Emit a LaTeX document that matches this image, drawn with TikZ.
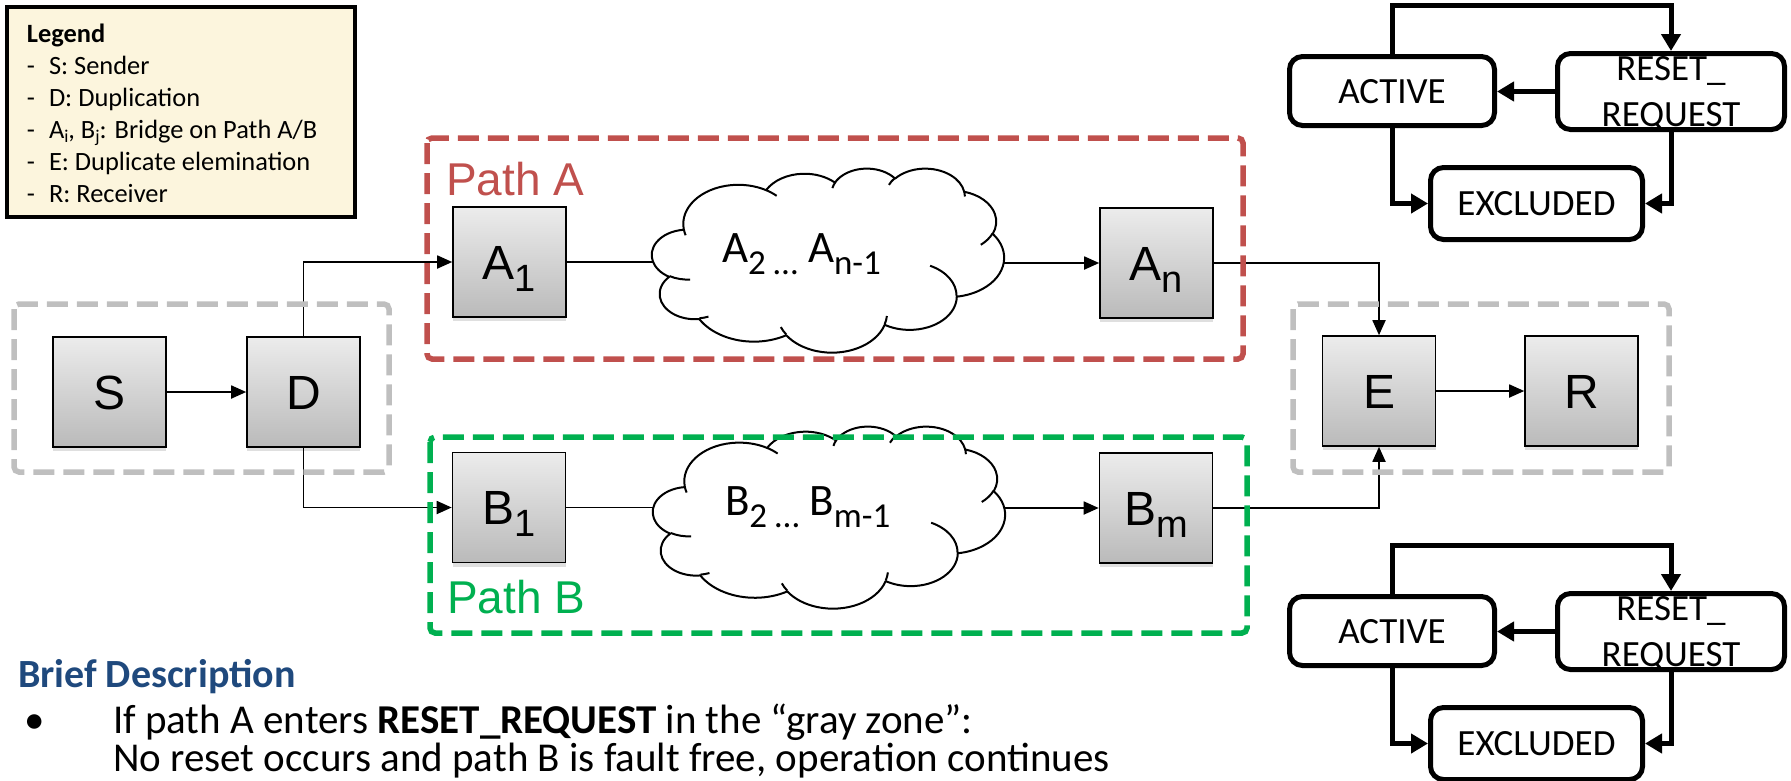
\documentclass[tikz,border=0pt]{standalone}
\usepackage{fontspec}
\setmainfont{Carlito}
\newfontfamily\ari{Liberation Sans}
\usetikzlibrary{arrows.meta,shadows,calc}
\definecolor{legfill}{RGB}{252,245,221}
\definecolor{pathred}{RGB}{192,80,77}
\definecolor{pathgreen}{RGB}{0,176,80}
\definecolor{zonegray}{RGB}{191,191,191}
\definecolor{hdblue}{RGB}{31,73,125}
\definecolor{boxtop}{RGB}{236,236,236}
\definecolor{boxbot}{RGB}{186,186,186}
\newcommand\fsz[2]{\fontsize{#1}{#2}\selectfont}
\newcommand\lo[3]{\raisebox{-#1pt}{\fontsize{#2pt}{#2pt}\selectfont #3}}
% OOXML arcTo -> TikZ parametric angles
\newcommand\ooprep[5]{%
  \pgfmathsetmacro\ootA{atan2((#2)*sin(#4),(#3)*cos(#4))}%
  \pgfmathsetmacro\ootB{atan2((#2)*sin((#4)+(#5)),(#3)*cos((#4)+(#5)))}%
  \pgfmathsetmacro\ootD{mod(\ootB-\ootA+720,360)}%
  \expandafter\xdef\csname cld#1s\endcsname{\ootA}%
  \expandafter\xdef\csname cld#1d\endcsname{\ootD}%
}
\ooprep{a}{67.53}{91.90}{-190.4875}{123.7805}
\ooprep{b}{53.33}{72.67}{-144.1024}{89.9452}
\ooprep{c}{43.65}{59.45}{-145.8079}{99.7230}
\ooprep{d}{48.57}{65.95}{-130.9861}{117.2417}
\ooprep{e}{53.33}{72.73}{-78.7089}{109.0269}
\ooprep{f}{67.75}{92.20}{-46.2673}{130.2690}
\ooprep{g}{57.85}{78.67}{0.6250}{114.0333}
\ooprep{h}{67.52}{92.15}{22.4516}{115.1726}
\ooprep{i}{77.20}{105.43}{66.2426}{75.7110}
\ooprep{j}{43.60}{59.18}{-274.9421}{146.7356}
\ooprep{k}{43.45}{59.45}{-246.8285}{152.5189}
\ooprep{ia}{43.45}{59.45}{86.7420}{26.4295}
\ooprep{ib}{43.60}{59.18}{73.6105}{11.4475}
\ooprep{ic}{67.52}{92.15}{137.6242}{14.0811}
\ooprep{id}{67.52}{92.15}{6.4533}{15.9984}
\ooprep{ie}{57.85}{78.67}{-70.2924}{70.9174}
\ooprep{if}{53.33}{72.73}{30.3180}{27.7515}
\ooprep{ig}{48.57}{65.95}{-13.7443}{14.8589}
\ooprep{ih}{48.57}{65.95}{-149.1815}{18.1954}
\ooprep{ii}{43.65}{59.45}{-163.4943}{17.6864}
\ooprep{ij}{67.53}{91.90}{-66.7070}{12.3194}
\ooprep{ik}{67.53}{91.90}{157.6544}{11.8582}
\newcommand\pptcloud[4]{%
  \begin{scope}[shift={(#1,#2)}]
  \begin{scope}[x=#3pt,y=-#4pt]
  \draw[cloudline,fill=white] (39.00,143.70)
    arc[start angle=\cldas, delta angle=\cldad, x radius=67.53, y radius=91.90]
    arc[start angle=\cldbs, delta angle=\cldbd, x radius=53.33, y radius=72.67]
    arc[start angle=\cldcs, delta angle=\cldcd, x radius=43.65, y radius=59.45]
    arc[start angle=\cldds, delta angle=\clddd, x radius=48.57, y radius=65.95]
    arc[start angle=\cldes, delta angle=\clded, x radius=53.33, y radius=72.73]
    arc[start angle=\cldfs, delta angle=\cldfd, x radius=67.75, y radius=92.20]
    arc[start angle=\cldgs, delta angle=\cldgd, x radius=57.85, y radius=78.67]
    arc[start angle=\cldhs, delta angle=\cldhd, x radius=67.52, y radius=92.15]
    arc[start angle=\cldis, delta angle=\cldid, x radius=77.20, y radius=105.43]
    arc[start angle=\cldjs, delta angle=\cldjd, x radius=43.60, y radius=59.18]
    arc[start angle=\cldks, delta angle=\cldkd, x radius=43.45, y radius=59.45]
    -- cycle;
  \draw[cloudline]
    (46.93,261.77) arc[start angle=\cldias, delta angle=\cldiad, x radius=43.45, y radius=59.45]
    (69.28,348.99) arc[start angle=\cldibs, delta angle=\cldibd, x radius=43.60, y radius=59.18]
    (164.78,390.90) arc[start angle=\cldics, delta angle=\cldicd, x radius=67.52, y radius=92.15]
    (288.27,347.51) arc[start angle=\cldids, delta angle=\cldidd, x radius=67.52, y radius=92.15]
    (341.29,229.54) arc[start angle=\cldies, delta angle=\cldied, x radius=57.85, y radius=78.67]
    (417.98,153.54) arc[start angle=\cldifs, delta angle=\cldifd, x radius=53.33, y radius=72.73]
    (383.24,54.26) arc[start angle=\cldigs, delta angle=\cldigd, x radius=48.57, y radius=65.95]
    (290.78,39.52) arc[start angle=\cldihs, delta angle=\cldihd, x radius=48.57, y radius=65.95]
    (221.41,47.20) arc[start angle=\cldiis, delta angle=\cldiid, x radius=43.65, y radius=59.45]
    (140.00,51.92) arc[start angle=\cldijs, delta angle=\cldijd, x radius=67.53, y radius=91.90]
    (41.27,157.89) arc[start angle=\cldiks, delta angle=\cldikd, x radius=67.53, y radius=91.90];
  \end{scope}
  \end{scope}}
\begin{document}
\begin{tikzpicture}[x=1pt,y=-1pt,
  blk/.style={draw=black, line width=1.6pt, top color=boxtop, bottom color=boxbot,
    minimum width=113pt, minimum height=110pt, inner sep=0pt, text height=34.4pt, text depth=0pt,
    font=\ari\fsz{48pt}{58pt},
    drop shadow={shadow xshift=0pt, shadow yshift=-4pt, opacity=0.25}},
  conn/.style={line width=1.8pt, draw=black},
  arr/.style={conn, -{Triangle[length=15pt,width=13pt]}},
  zone/.style={line width=5.5pt, dash pattern=on 21pt off 9pt, rounded corners=5pt},
  state/.style={draw=black, line width=5pt, rounded corners=13pt, fill=white, inner sep=0pt,
    font=\fsz{37pt}{46pt}, align=center, text depth=0pt},
  sarr/.style={line width=5pt, -{Triangle[length=17pt,width=19pt]}},
  cloudline/.style={line width=2pt, draw=black, line join=round},
  txt/.style={anchor=base west, inner sep=0pt, outer sep=0pt},
]
\useasboundingbox (0,0) rectangle (1791,780);
\clip (0,0) rectangle (1791,780);

% legend
\node[draw=black, line width=4pt, fill=legfill, minimum width=348pt, minimum height=210pt,
  inner sep=0pt, anchor=north west] (leg) at (5,5) {};
\begin{scope}[every node/.style={txt, font=\fsz{26.4pt}{32pt}}]
\node (legt) at (27,42) {\bfseries Legend};
\node (l1d) at (27,74) {-};  \node (l1) at (49,74) {S: Sender};
\node (l2d) at (27,106) {-}; \node (l2) at (49,106) {D: Duplication};
\node (l3d) at (27,138) {-}; \node (l3) at (49,138) {A\lo{4}{18}{i}, B\lo{4}{18}{j}: Bridge on Path A/B};
\node (l4d) at (27,170) {-}; \node (l4) at (49,170) {E: Duplicate elemination};
\node (l5d) at (27,202) {-}; \node (l5) at (49,202) {R: Receiver};
\end{scope}

% boxes
\node[blk] (S) at (109.5,392) {S};
\node[blk] (D) at (303.5,392) {D};
\node[blk] (A1) at (509.5,262) {A\lo{12}{38}{1}};
\node[blk] (An) at (1156.5,263) {A\lo{12}{38}{n}};
\node[blk] (B1) at (509,507.5) {B\lo{12}{38}{1}};
\node[blk] (Bm) at (1156,508) {B\lo{12}{38}{m}};
\node[blk] (E) at (1379,391) {E};
\node[blk] (R) at (1581.5,391) {R};

% cloud frames
\node[inner sep=0pt, outer sep=0pt, minimum width=352pt, minimum height=184pt, anchor=north west] (cA) at (652,168) {};
\node[inner sep=0pt, outer sep=0pt, minimum width=352pt, minimum height=182pt, anchor=north west] (cB) at (653,426) {};

% connectors
\draw[arr] (S) -- (D);
\draw[arr] (D.north) |- (A1.west);
\draw[arr] (D.south) |- (B1.west);
\draw[conn] (A1.east) -- (A1.east -| cA.center);
\draw[arr] (An.west -| cA.center) -- (An.west);
\draw[arr] (An.east) -| (E.north);
\draw[conn] (B1.east) -- (B1.east -| cB.center);
\draw[arr] (Bm.west -| cB.center) -- (Bm.west);
\draw[arr] (Bm.east) -| (E.south);
\draw[arr] (E) -- (R);

% clouds
\pptcloud{652}{168}{0.814815}{0.425926}
\pptcloud{653}{426}{0.814815}{0.421296}
\node[txt, font=\fsz{45pt}{54pt}] (cAt) at (722,262) {A\lo{12}{35}{2 …} A\lo{12}{35}{n-1}};
\node[txt, font=\fsz{45pt}{54pt}] (cBt) at (725,515) {B\lo{12}{35}{2 …} B\lo{12}{35}{m-1}};

% zones
\draw[zone, draw=zonegray] (14,304) rectangle (389,472);
\draw[zone, draw=zonegray] (1293,304) rectangle (1669,472);
\draw[zone, draw=pathred] (427,138) rectangle (1243,359);
\draw[zone, draw=pathgreen] (430,437) rectangle (1247,633);
\node[txt, text=pathred, font=\ari\fsz{46pt}{55pt}] (pa) at (446,195) {Path A};
\node[txt, text=pathgreen, font=\ari\fsz{46pt}{55pt}] (pb) at (447,613) {Path B};

% state machines
\foreach \k/\dy in {1/0,2/540}{
  \node[state, minimum width=205pt, minimum height=69pt] (act\k) at (1392,91+\dy) {ACTIVE};
  \node[state, minimum width=227pt, minimum height=76pt] (rst\k) at (1671,91.5+\dy) {RESET\_\\REQUEST};
  \node[state, minimum width=212pt, minimum height=72pt] (exc\k) at (1536.5,203.5+\dy) {EXCLUDED};
  \draw[sarr] (act\k.north) -- ++(0,-49) -| (rst\k.north);
  \draw[sarr] (rst\k.west) -- (rst\k.west -| act\k.east);
  \draw[sarr] (act\k.south) |- (exc\k.west);
  \draw[sarr] (rst\k.south) |- (exc\k.east);
}

% description
\node[txt, font=\bfseries\fsz{40pt}{48pt}, text=hdblue] (bd) at (18,687) {Brief Description};
\node[txt, font=\fsz{41pt}{49pt}] (bul) at (24,733) {•};
\node[txt, font=\fsz{41pt}{49pt}] (d1) at (113,733) {If path A enters \textbf{RESET\_REQUEST} in the “gray zone”:};
\node[txt, font=\fsz{41pt}{49pt}] (d2) at (113,771) {No reset occurs and path B is fault free, operation continues};
\end{tikzpicture}
\end{document}
